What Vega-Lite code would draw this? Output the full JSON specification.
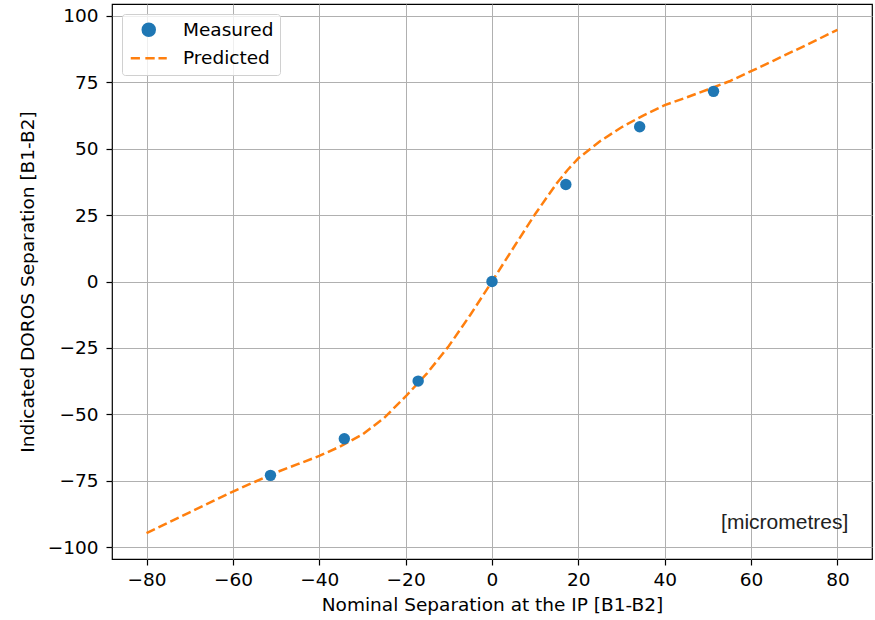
{
  "$schema": "https://vega.github.io/schema/vega-lite/v6.json",
  "width": 760,
  "height": 555,
  "autosize": "none",
  "padding": {"left": 112, "top": 4, "right": 3, "bottom": 61},
  "background": "white",
  "datasets": {
    "measured": [
      {"nominal": -51.3, "indicated": -73.0},
      {"nominal": -34.2, "indicated": -59.2},
      {"nominal": -17.1, "indicated": -37.5},
      {"nominal": 0, "indicated": 0},
      {"nominal": 17.1, "indicated": 36.5},
      {"nominal": 34.2, "indicated": 58.3},
      {"nominal": 51.3, "indicated": 71.6}
    ],
    "predicted": [
      {"nominal": -80, "indicated": -94.8},
      {"nominal": -75, "indicated": -90.8},
      {"nominal": -70, "indicated": -86.9},
      {"nominal": -65, "indicated": -83.0},
      {"nominal": -60, "indicated": -79.1},
      {"nominal": -55, "indicated": -75.5},
      {"nominal": -50, "indicated": -71.9},
      {"nominal": -45, "indicated": -68.8},
      {"nominal": -40, "indicated": -65.7},
      {"nominal": -35, "indicated": -62.0},
      {"nominal": -30, "indicated": -57.6},
      {"nominal": -25, "indicated": -51.4},
      {"nominal": -20, "indicated": -43.3},
      {"nominal": -15, "indicated": -34.5},
      {"nominal": -10, "indicated": -24.3},
      {"nominal": -5, "indicated": -12.5},
      {"nominal": 0, "indicated": 0},
      {"nominal": 5, "indicated": 12.8},
      {"nominal": 10, "indicated": 25.4},
      {"nominal": 15, "indicated": 37.0},
      {"nominal": 17.5, "indicated": 42.0},
      {"nominal": 20, "indicated": 46.4},
      {"nominal": 25, "indicated": 52.8},
      {"nominal": 30, "indicated": 58.1},
      {"nominal": 35, "indicated": 62.5},
      {"nominal": 40, "indicated": 66.4},
      {"nominal": 45, "indicated": 69.3},
      {"nominal": 50, "indicated": 72.3},
      {"nominal": 55, "indicated": 75.4},
      {"nominal": 60, "indicated": 79.2},
      {"nominal": 65, "indicated": 83.0},
      {"nominal": 70, "indicated": 86.9},
      {"nominal": 75, "indicated": 90.8},
      {"nominal": 80, "indicated": 94.8}
    ],
    "notes": [
      {"note": "[micrometres]"}
    ]
  },
  "config": {
    "font": "DejaVu Sans",
    "view": {"stroke": "#000000", "strokeWidth": 1.2},
    "axis": {
      "domain": false,
      "grid": true,
      "gridColor": "#b0b0b0",
      "gridWidth": 1,
      "tickColor": "#000000",
      "tickWidth": 1.2,
      "tickSize": 6,
      "labelFont": "DejaVu Sans",
      "labelFontSize": 18.5,
      "labelColor": "#000000",
      "titleFont": "DejaVu Sans",
      "titleFontSize": 18.5,
      "titleFontWeight": "normal",
      "titleColor": "#000000"
    }
  },
  "layer": [
    {
      "data": {"name": "predicted"},
      "mark": {"type": "line", "strokeWidth": 2.5, "strokeDash": [9.25, 4], "clip": true},
      "encoding": {
        "x": {
          "field": "nominal",
          "type": "quantitative",
          "scale": {"domain": [-88, 88], "nice": false, "zero": false},
          "axis": {
            "values": [-80, -60, -40, -20, 0, 20, 40, 60, 80],
            "format": "d",
            "labelPadding": 5,
            "title": "Nominal Separation at the IP [B1-B2]",
            "titlePadding": 7
          }
        },
        "y": {
          "field": "indicated",
          "type": "quantitative",
          "scale": {"domain": [-104.5, 104.5], "nice": false, "zero": false},
          "axis": {
            "values": [-100, -75, -50, -25, 0, 25, 50, 75, 100],
            "format": "d",
            "labelPadding": 8,
            "title": "Indicated DOROS Separation [B1-B2]",
            "titlePadding": 10
          }
        },
        "color": {
          "datum": "Predicted",
          "type": "nominal",
          "scale": {"domain": ["Measured", "Predicted"], "range": ["#1f77b4", "#ff7f0e"]},
          "legend": {
            "title": null,
            "orient": "top-left",
            "offset": 10,
            "padding": 6.5,
            "fillColor": "rgba(255,255,255,0.8)",
            "strokeColor": "#d0d0d0",
            "cornerRadius": 3,
            "labelFont": "DejaVu Sans",
            "labelFontSize": 18.5,
            "labelColor": "#000000",
            "symbolSize": 144,
            "symbolOffset": 11,
            "labelOffset": 25,
            "rowPadding": 7.5,
            "encode": {
              "symbols": {
                "update": {
                  "shape": {"signal": "datum.value === 'Measured' ? 'circle' : 'M-3,0H-1.47M-0.57,0H0.99M1.62,0H3'"},
                  "fill": {"signal": "datum.value === 'Measured' ? '#1f77b4' : 'transparent'"},
                  "stroke": {"signal": "datum.value === 'Measured' ? 'transparent' : '#ff7f0e'"},
                  "strokeWidth": {"value": 2.5},
                  "strokeDash": {"value": []},
                  "opacity": {"value": 1}
                }
              }
            }
          }
        }
      }
    },
    {
      "data": {"name": "measured"},
      "mark": {"type": "point", "filled": true, "size": 130, "opacity": 1},
      "encoding": {
        "x": {"field": "nominal", "type": "quantitative"},
        "y": {"field": "indicated", "type": "quantitative"},
        "color": {"datum": "Measured", "type": "nominal"}
      }
    },
    {
      "data": {"name": "notes"},
      "mark": {"type": "text", "align": "right", "baseline": "middle", "font": "Liberation Sans", "fontSize": 21, "color": "#222222"},
      "encoding": {
        "x": {"datum": 82.5, "type": "quantitative"},
        "y": {"datum": -91, "type": "quantitative"},
        "text": {"field": "note", "type": "nominal"}
      }
    }
  ]
}
